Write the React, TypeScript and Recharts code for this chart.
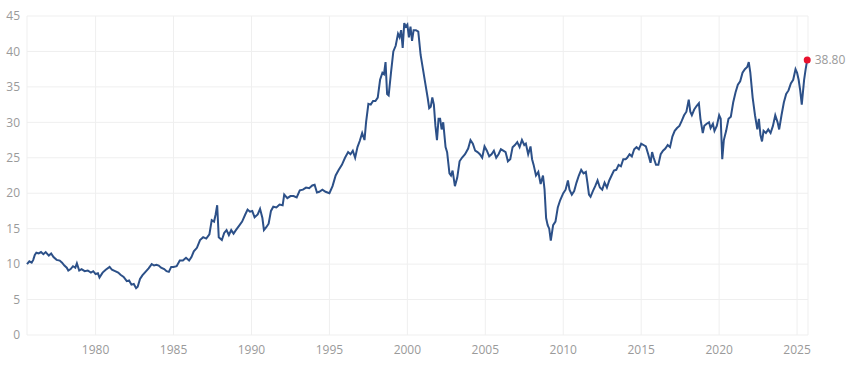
import React from "react"
import {
  LineChart,
  Line,
  XAxis,
  YAxis,
  CartesianGrid,
  ReferenceDot,
} from "recharts"

document.body.style.margin = "0"

// decimal year of each observation
const dates = [
  1975.6, 1975.75, 1975.9, 1976.0, 1976.1, 1976.2, 1976.35, 1976.5, 1976.65, 1976.8,
  1977.0, 1977.15, 1977.3, 1977.5, 1977.7, 1977.85, 1978.0, 1978.15, 1978.25, 1978.4,
  1978.55, 1978.7, 1978.8, 1978.95, 1979.1, 1979.3, 1979.5, 1979.7, 1979.85, 1980.0,
  1980.15, 1980.25, 1980.45, 1980.65, 1980.9, 1981.05, 1981.25, 1981.45, 1981.6, 1981.8,
  1982.0, 1982.15, 1982.3, 1982.45, 1982.6, 1982.7, 1982.85, 1983.0, 1983.2, 1983.4,
  1983.6, 1983.75, 1983.9, 1984.05, 1984.2, 1984.4, 1984.55, 1984.7, 1984.85, 1985.0,
  1985.2, 1985.4, 1985.6, 1985.8, 1986.0, 1986.15, 1986.3, 1986.5, 1986.7, 1986.9,
  1987.1, 1987.3, 1987.45, 1987.6, 1987.7, 1987.8, 1987.9, 1988.1, 1988.25, 1988.4,
  1988.55, 1988.7, 1988.85, 1989.0, 1989.2, 1989.4, 1989.6, 1989.75, 1989.9, 1990.05,
  1990.2, 1990.4, 1990.55, 1990.7, 1990.8, 1990.95, 1991.1, 1991.25, 1991.4, 1991.6,
  1991.8, 1992.0, 1992.1, 1992.3, 1992.5, 1992.7, 1992.9, 1993.1, 1993.3, 1993.5,
  1993.7, 1993.9, 1994.05, 1994.2, 1994.35, 1994.55, 1994.75, 1995.0, 1995.2, 1995.4,
  1995.6, 1995.8, 1996.0, 1996.2, 1996.35, 1996.5, 1996.65, 1996.8, 1996.95, 1997.1,
  1997.25, 1997.35, 1997.5, 1997.65, 1997.8, 1997.95, 1998.1, 1998.25, 1998.4, 1998.5,
  1998.6, 1998.7, 1998.8, 1998.95, 1999.1, 1999.25, 1999.4, 1999.5, 1999.6, 1999.7,
  1999.8, 1999.9, 2000.0, 2000.1, 2000.2, 2000.3, 2000.4, 2000.55, 2000.7, 2000.85,
  2001.0, 2001.15, 2001.3, 2001.4, 2001.5, 2001.6, 2001.7, 2001.8, 2001.9, 2002.0,
  2002.1, 2002.2, 2002.3, 2002.45, 2002.55, 2002.7, 2002.8, 2002.9, 2003.05, 2003.2,
  2003.35, 2003.5, 2003.7, 2003.9, 2004.05, 2004.2, 2004.35, 2004.5, 2004.65, 2004.8,
  2004.95, 2005.1, 2005.25, 2005.4, 2005.55, 2005.7, 2005.85, 2006.0, 2006.15, 2006.3,
  2006.45, 2006.6, 2006.75, 2006.9, 2007.05, 2007.2, 2007.35, 2007.5, 2007.6, 2007.75,
  2007.9, 2008.0, 2008.1, 2008.25, 2008.4, 2008.55, 2008.7, 2008.8, 2008.9, 2009.0,
  2009.1, 2009.2, 2009.35, 2009.5, 2009.65, 2009.8, 2010.0, 2010.15, 2010.3, 2010.4,
  2010.55, 2010.7, 2010.85, 2011.0, 2011.15, 2011.3, 2011.45, 2011.55, 2011.65, 2011.75,
  2011.9, 2012.05, 2012.2, 2012.35, 2012.5, 2012.65, 2012.8, 2012.95, 2013.1, 2013.25,
  2013.4, 2013.55, 2013.7, 2013.85, 2014.0, 2014.1, 2014.25, 2014.4, 2014.55, 2014.7,
  2014.85, 2015.0, 2015.15, 2015.3, 2015.45, 2015.6, 2015.7, 2015.8, 2015.95, 2016.1,
  2016.25, 2016.4, 2016.55, 2016.7, 2016.85, 2017.0, 2017.15, 2017.3, 2017.45, 2017.6,
  2017.75, 2017.9, 2018.05, 2018.15, 2018.25, 2018.4, 2018.55, 2018.7, 2018.8, 2018.95,
  2019.05, 2019.2, 2019.35, 2019.45, 2019.6, 2019.7, 2019.85, 2020.0, 2020.1, 2020.2,
  2020.3, 2020.45, 2020.6, 2020.75, 2020.9, 2021.05, 2021.2, 2021.35, 2021.5, 2021.65,
  2021.8, 2021.9, 2022.0, 2022.15, 2022.3, 2022.45, 2022.55, 2022.65, 2022.75, 2022.85,
  2023.0, 2023.15, 2023.3, 2023.45, 2023.6, 2023.75, 2023.85, 2024.0, 2024.15, 2024.3,
  2024.45, 2024.6, 2024.75, 2024.9, 2025.0, 2025.1, 2025.2, 2025.3, 2025.45, 2025.55,
  2025.65,
]

const cape = [
  10.0, 10.4, 10.2, 10.6, 11.3, 11.6, 11.5, 11.7, 11.4, 11.7,
  11.2, 11.5, 11.0, 10.6, 10.5, 10.2, 9.8, 9.5, 9.1, 9.3,
  9.7, 9.5, 10.1, 9.1, 9.3, 9.0, 9.1, 8.8, 9.0, 8.6,
  8.7, 8.1, 8.8, 9.2, 9.6, 9.2, 9.0, 8.8, 8.5, 8.2,
  7.6, 7.7, 7.1, 7.2, 6.6, 6.8, 7.9, 8.4, 8.9, 9.4,
  10.0, 9.8, 9.9, 9.8, 9.5, 9.3, 9.0, 8.9, 9.6, 9.6,
  9.7, 10.5, 10.5, 10.9, 10.5, 11.0, 11.8, 12.3, 13.4, 13.8,
  13.6, 14.2, 16.2, 16.0, 17.0, 18.3, 13.8, 13.4, 14.4, 14.8,
  14.1, 14.8, 14.3, 14.8, 15.4, 16.0, 17.0, 17.7, 17.4, 17.5,
  16.6, 17.0, 17.8, 16.5, 14.8, 15.2, 15.7, 17.5, 18.1, 18.0,
  18.4, 18.3, 19.8, 19.3, 19.6, 19.6, 19.4, 20.4, 20.5, 20.8,
  20.7, 21.1, 21.2, 20.1, 20.2, 20.5, 20.2, 20.0, 21.0, 22.5,
  23.3, 24.0, 25.0, 25.8, 25.5, 26.0, 25.0, 26.5, 27.4, 28.5,
  27.5, 30.0, 32.6, 32.5, 33.0, 33.0, 33.5, 36.0, 37.0, 36.8,
  38.5, 34.0, 33.8, 37.0, 40.0, 40.8, 42.5, 42.0, 43.0, 40.5,
  44.0, 43.5, 43.8, 42.0, 43.5, 41.5, 43.0, 43.0, 42.8, 39.5,
  37.5, 35.5, 33.5, 32.0, 32.2, 33.5, 32.5, 29.5, 27.5, 30.5,
  30.5, 29.0, 30.0, 26.5, 25.8, 22.8, 22.5, 23.2, 21.0, 22.2,
  24.5, 25.0, 25.5, 26.3, 27.5, 27.0, 26.0, 25.8, 25.5, 25.0,
  26.6, 26.0, 25.2, 25.5, 26.0, 25.0, 25.5, 26.2, 26.0, 25.8,
  24.5, 24.8, 26.5, 26.8, 27.2, 26.5, 27.5, 26.8, 27.0, 25.5,
  26.6, 24.8, 24.0, 22.5, 23.0, 21.3, 22.5, 20.5, 16.5, 15.5,
  15.0, 13.3, 15.5, 16.0, 18.0, 19.0, 20.0, 20.5, 21.8, 20.5,
  19.8, 20.3, 21.5, 22.5, 23.3, 22.8, 23.0, 21.5, 19.8, 19.5,
  20.3, 21.0, 21.8, 20.8, 20.5, 21.5, 20.8, 21.8, 22.5, 23.2,
  23.3, 24.0, 23.8, 24.8, 24.8, 25.0, 25.5, 25.2, 26.2, 26.5,
  26.2, 27.0, 26.8, 26.6, 25.5, 24.3, 25.8, 25.0, 24.0, 24.0,
  25.5, 26.0, 26.3, 26.8, 26.5, 28.0, 28.8, 29.2, 29.5, 30.2,
  31.0, 31.5, 33.2, 31.5, 31.0, 31.8, 32.3, 32.7, 30.5, 28.5,
  29.5, 29.8, 30.0, 29.2, 29.8, 28.8, 29.5, 31.0, 30.5, 24.8,
  27.5, 28.8, 30.5, 30.8, 32.8, 34.2, 35.3, 35.8, 37.0, 37.5,
  37.8, 38.5, 37.0, 33.5, 31.0, 29.0, 30.5, 28.2, 27.3, 28.8,
  28.5, 29.0, 28.5, 29.5, 31.0, 30.0, 29.0, 31.0, 32.8, 34.0,
  34.5, 35.5, 36.0, 37.5, 37.0, 36.0, 34.5, 32.5, 36.0, 37.5,
  38.8,
]

const yearTicks = [1980, 1985, 1990, 1995, 2000, 2005, 2010, 2015, 2020, 2025]
const valueTicks = [0, 5, 10, 15, 20, 25, 30, 35, 40, 45]

const chartData = dates.map((d, i) => ({ date: d, value: cape[i] }))
const last = chartData[chartData.length - 1]

const tickStyle = { fill: "#9a9a9a", fontSize: 12, fontFamily: "Open Sans" }

export default function App() {
  return (
    <LineChart
      width={848}
      height={376}
      data={chartData}
      margin={{ top: 16, right: 40, bottom: 11, left: 0 }}
    >
      <CartesianGrid stroke="#efefef" />
      <XAxis
        dataKey="date"
        type="number"
        domain={[1975.6, 2025.7]}
        ticks={yearTicks}
        axisLine={false}
        tickLine={false}
        tickSize={0}
        tickMargin={10}
        height={30}
        tick={tickStyle}
      />
      <YAxis
        domain={[0, 45]}
        ticks={valueTicks}
        axisLine={false}
        tickLine={false}
        tickSize={0}
        tickMargin={7}
        width={27}
        tick={tickStyle}
      />
      <Line
        dataKey="value"
        stroke="#2c5088"
        strokeWidth={2}
        dot={false}
        isAnimationActive={false}
      />
      <ReferenceDot
        x={last.date}
        y={last.value}
        r={3.5}
        fill="#e8112d"
        stroke="none"
        label={{ value: last.value.toFixed(2), position: "right", offset: 4, ...tickStyle }}
      />
    </LineChart>
  )
}
